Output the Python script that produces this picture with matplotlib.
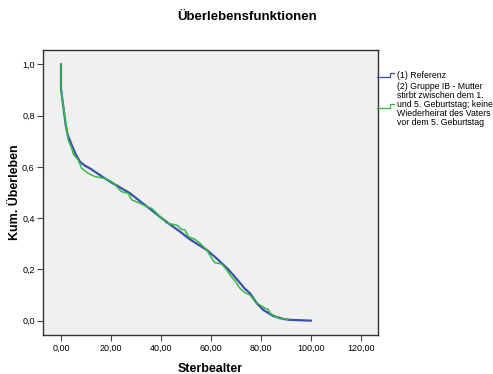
import numpy as np
import matplotlib
matplotlib.use("Agg")
from matplotlib import pyplot as plt

plt.rcParams['font.family'] = ['Liberation Sans', 'DejaVu Sans']

# (1) Referenz
ref_age = [0, 0, 0.5, 1.2, 1.9, 2.7, 4.3, 5.9, 7.6, 9.5, 11.6, 14.5, 17.6, 20.0,
           23.6, 27.6, 32.0, 36.0, 39.6, 43.6, 47.0, 51.6, 55.0, 58.3, 62.0,
           66.9, 70.5, 73.5, 75.6, 78.3, 80.9, 84.9, 88.9, 91.6, 100.0]
ref_surv = [1.0, 0.906, 0.867, 0.815, 0.763, 0.724, 0.685, 0.649, 0.62, 0.605,
            0.594, 0.575, 0.555, 0.54, 0.52, 0.497, 0.463, 0.433, 0.405, 0.375,
            0.352, 0.317, 0.296, 0.276, 0.245, 0.2, 0.16, 0.125, 0.107, 0.068,
            0.042, 0.018, 0.0066, 0.003, 0.0]

# (2) Gruppe IB
grp_age = [0, 0, 0.3, 0.9, 1.6, 2.3, 2.9, 4.3, 4.9, 6.9, 8.3, 10.9, 13.6, 17.6,
           20.9, 22.3, 24.3, 26.9, 28.3, 31.6, 34.3, 36.3, 38.3, 40.3, 42.3,
           46.3, 48.3, 49.6, 51.0, 53.6, 55.6, 58.3, 60.3, 61.6, 64.3, 66.3,
           67.6, 69.6, 71.6, 73.5, 75.6, 77.6, 79.6, 81.6, 82.9, 83.6, 85.6,
           86.9, 90.9]
grp_surv = [1.0, 0.906, 0.88, 0.84, 0.79, 0.744, 0.705, 0.672, 0.65, 0.627,
            0.594, 0.575, 0.562, 0.555, 0.538, 0.523, 0.503, 0.497, 0.471, 0.458,
            0.445, 0.438, 0.419, 0.4, 0.38, 0.373, 0.356, 0.354, 0.328, 0.317,
            0.302, 0.276, 0.243, 0.226, 0.221, 0.198, 0.178, 0.155, 0.126, 0.11,
            0.1, 0.074, 0.061, 0.048, 0.044, 0.029, 0.018, 0.009, 0.005]

xticks = [0, 20, 40, 60, 80, 100, 120]
yticks = [0.0, 0.2, 0.4, 0.6, 0.8, 1.0]

blue = '#3a50b0'
green = '#34bb44'

fig = plt.figure(figsize=(4.93, 3.74), dpi=100)
ax = fig.add_axes([0.0872, 0.1043, 0.6795, 0.762])
ax.set_facecolor('#f0f0f0')

ax.plot(ref_age, ref_surv, color=blue, lw=1.6)
ax.plot(grp_age, grp_surv, color=green, lw=1.1)

ax.set_xlim(-7.2, 126.8)
ax.set_ylim(-0.056, 1.056)
ax.set_xticks(xticks)
ax.set_xticklabels([('%.2f' % v).replace('.', ',') for v in xticks])
ax.set_yticks(yticks)
ax.set_yticklabels([('%.1f' % v).replace('.', ',') for v in yticks])
ax.tick_params(labelsize=6.5, direction='out', length=4, color='#444444', pad=2)
for s in ax.spines.values():
    s.set_color('#333333')
    s.set_linewidth(1.0)

ax.set_xlabel('Sterbealter', fontsize=9, fontweight='bold', labelpad=8)
fig.text(0.030, 0.485, 'Kum. Überleben', rotation=90, ha='center', va='center',
         fontsize=9, fontweight='bold')
fig.text(0.502, 0.955, 'Überlebensfunktionen', ha='center', va='center',
         fontsize=9.5, fontweight='bold')

# legend drawn by hand (step-shaped markers)
def marker(y_lo, y_hi, color):
    xs = [0.765, 0.791, 0.791, 0.799]
    ys = [y_lo, y_lo, y_hi, y_hi]
    fig.add_artist(plt.Line2D(xs, ys, color=color, lw=0.9, transform=fig.transFigure))

marker(0.793, 0.804, blue)
marker(0.711, 0.721, green)
fig.text(0.805, 0.797, '(1) Referenz', fontsize=6.3, va='center')
fig.text(0.805, 0.7214,
         '(2) Gruppe IB - Mutter\nstirbt zwischen dem 1.\nund 5. Geburtstag; keine\n'
         'Wiederheirat des Vaters\nvor dem 5. Geburtstag',
         fontsize=6.3, va='center', linespacing=1.0)

fig.savefig('out.png', dpi=100)
